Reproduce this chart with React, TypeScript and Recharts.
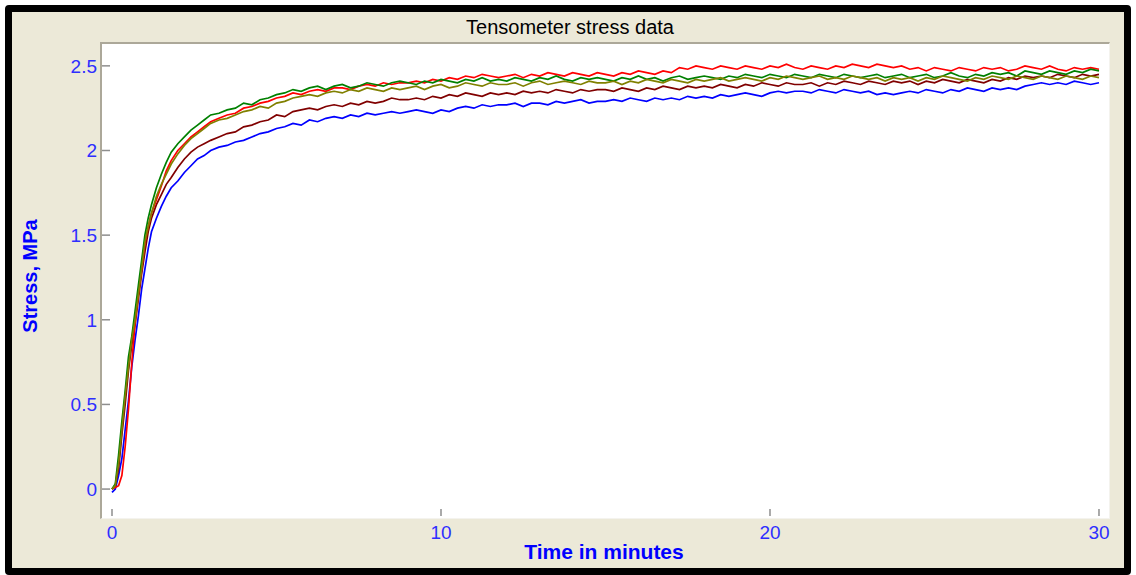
import { LineChart, Line, XAxis, YAxis } from "recharts";

// sampling times, minutes
const time = [
  0, 0.1, 0.2, 0.3, 0.4, 0.5, 0.6, 0.7, 0.8, 0.9, 1.0, 1.1, 1.2, 1.35, 1.5, 1.65, 1.8, 2.0, 2.2, 2.4, 2.6, 2.8,
  3, 3.25, 3.5, 3.75, 4, 4.25, 4.5, 4.75, 5, 5.25, 5.5, 5.75,
  6, 6.25, 6.5, 6.75, 7, 7.25, 7.5, 7.75, 8, 8.25, 8.5, 8.75,
  9, 9.25, 9.5, 9.75, 10, 10.25, 10.5, 10.75, 11, 11.25, 11.5, 11.75,
  12, 12.25, 12.5, 12.75, 13, 13.25, 13.5, 13.75, 14, 14.25, 14.5, 14.75,
  15, 15.25, 15.5, 15.75, 16, 16.25, 16.5, 16.75, 17, 17.25, 17.5, 17.75,
  18, 18.25, 18.5, 18.75, 19, 19.25, 19.5, 19.75, 20, 20.25, 20.5, 20.75,
  21, 21.25, 21.5, 21.75, 22, 22.25, 22.5, 22.75, 23, 23.25, 23.5, 23.75,
  24, 24.25, 24.5, 24.75, 25, 25.25, 25.5, 25.75, 26, 26.25, 26.5, 26.75,
  27, 27.25, 27.5, 27.75, 28, 28.25, 28.5, 28.75, 29, 29.25, 29.5, 29.75, 30,
];

// stress, MPa
const blue = [
  -0.02, 0.0, 0.08, 0.18, 0.35, 0.52, 0.72, 0.88, 1.02, 1.18, 1.3, 1.42, 1.52, 1.6, 1.67, 1.73, 1.78, 1.82, 1.87, 1.91, 1.95, 1.97,
  2.00, 2.02, 2.03, 2.05, 2.06, 2.08, 2.10, 2.11, 2.13, 2.14, 2.16, 2.15,
  2.18, 2.17, 2.19, 2.20, 2.19, 2.21, 2.20, 2.22, 2.21, 2.22, 2.23, 2.22,
  2.23, 2.24, 2.23, 2.22, 2.24, 2.23, 2.25, 2.26, 2.25, 2.27, 2.26, 2.27,
  2.27, 2.28, 2.26, 2.28, 2.28, 2.27, 2.29, 2.28, 2.29, 2.30, 2.28, 2.29,
  2.29, 2.30, 2.29, 2.31, 2.30, 2.29, 2.31, 2.30, 2.31, 2.30, 2.32, 2.31,
  2.32, 2.31, 2.33, 2.32, 2.33, 2.34, 2.33, 2.32, 2.34, 2.35, 2.34, 2.35,
  2.35, 2.34, 2.36, 2.35, 2.34, 2.36, 2.35, 2.34, 2.35, 2.33, 2.34, 2.33,
  2.34, 2.35, 2.34, 2.36, 2.35, 2.34, 2.36, 2.35, 2.37, 2.36, 2.35, 2.37,
  2.36, 2.37, 2.36, 2.38, 2.39, 2.40, 2.39, 2.40, 2.39, 2.41, 2.40, 2.39, 2.40,
];

const maroon = [
  0, 0.02, 0.12, 0.32, 0.5, 0.7, 0.85, 0.97, 1.12, 1.27, 1.4, 1.52, 1.6, 1.68, 1.74, 1.8, 1.84, 1.9, 1.95, 1.99, 2.02, 2.04,
  2.06, 2.08, 2.10, 2.11, 2.14, 2.15, 2.17, 2.18, 2.21, 2.20, 2.23, 2.24,
  2.25, 2.24, 2.26, 2.27, 2.26, 2.28, 2.27, 2.29, 2.28, 2.29, 2.31, 2.30,
  2.30, 2.31, 2.30, 2.32, 2.31, 2.33, 2.32, 2.34, 2.33, 2.32, 2.34, 2.33,
  2.34, 2.33, 2.35, 2.34, 2.35, 2.34, 2.36, 2.35, 2.34, 2.36, 2.35, 2.36,
  2.36, 2.35, 2.37, 2.36, 2.35, 2.37, 2.36, 2.38, 2.37, 2.36, 2.38, 2.37,
  2.38, 2.37, 2.39, 2.38, 2.37, 2.39, 2.38, 2.40, 2.39, 2.38, 2.40, 2.39,
  2.39, 2.40, 2.38, 2.40, 2.39, 2.41, 2.40, 2.39, 2.41, 2.40, 2.39, 2.41,
  2.40, 2.41, 2.39, 2.41, 2.40, 2.42, 2.41, 2.40, 2.42, 2.41, 2.40, 2.42,
  2.41, 2.43, 2.42, 2.44, 2.43, 2.44, 2.43, 2.45, 2.44, 2.43, 2.45, 2.44, 2.45,
];

const red = [
  0, 0.01, 0.02, 0.08, 0.25, 0.47, 0.74, 0.98, 1.15, 1.3, 1.45, 1.55, 1.63, 1.71, 1.79, 1.88, 1.94, 2.0, 2.04, 2.08, 2.11, 2.14,
  2.17, 2.19, 2.21, 2.22, 2.25, 2.26, 2.28, 2.29, 2.31, 2.32, 2.34, 2.33,
  2.35, 2.36, 2.35, 2.37, 2.37, 2.36, 2.38, 2.39, 2.38, 2.40, 2.39, 2.40,
  2.40, 2.41, 2.40, 2.42, 2.41, 2.43, 2.42, 2.44, 2.43, 2.45, 2.44, 2.43,
  2.44, 2.45, 2.43, 2.45, 2.44, 2.46, 2.45, 2.44, 2.46, 2.45, 2.44, 2.46,
  2.45, 2.44, 2.46, 2.45, 2.47, 2.46, 2.45, 2.47, 2.46, 2.49, 2.48, 2.50,
  2.49, 2.48, 2.50, 2.49, 2.48, 2.50, 2.49, 2.48, 2.50, 2.49, 2.51, 2.49,
  2.48, 2.50, 2.49, 2.48, 2.50, 2.49, 2.51, 2.50, 2.49, 2.51, 2.50, 2.49,
  2.50, 2.48, 2.49, 2.47, 2.49, 2.48, 2.47, 2.49, 2.48, 2.47, 2.49, 2.48,
  2.49, 2.47, 2.48, 2.50, 2.49, 2.48, 2.50, 2.48, 2.47, 2.49, 2.48, 2.49, 2.48,
];

const green = [
  0, 0.03, 0.2, 0.4, 0.58, 0.78, 0.9, 1.05, 1.2, 1.35, 1.5, 1.6, 1.68, 1.78, 1.86, 1.93, 1.99, 2.04, 2.08, 2.12, 2.15, 2.18,
  2.21, 2.22, 2.24, 2.25, 2.28, 2.27, 2.30, 2.31, 2.33, 2.34, 2.36, 2.35,
  2.37, 2.38, 2.36, 2.38, 2.39, 2.37, 2.38, 2.40, 2.39, 2.38, 2.40, 2.41,
  2.40, 2.39, 2.41, 2.40, 2.42, 2.41, 2.40, 2.42, 2.41, 2.43, 2.41, 2.42,
  2.41, 2.43, 2.42, 2.41, 2.43, 2.42, 2.44, 2.42, 2.41, 2.43, 2.42, 2.43,
  2.42, 2.41, 2.43, 2.42, 2.44, 2.42, 2.43, 2.41, 2.43, 2.44, 2.42, 2.43,
  2.44, 2.43, 2.42, 2.44, 2.43, 2.45, 2.44, 2.43, 2.45, 2.44, 2.43, 2.45,
  2.44, 2.43, 2.45, 2.44, 2.43, 2.45, 2.44, 2.43, 2.44, 2.45, 2.43, 2.44,
  2.45, 2.43, 2.44, 2.45, 2.43, 2.44, 2.46, 2.44, 2.43, 2.45, 2.44, 2.46,
  2.45, 2.46, 2.44, 2.47, 2.46, 2.45, 2.47, 2.46, 2.45, 2.47, 2.46, 2.48, 2.47,
];

const olive = [
  0, 0.02, 0.15, 0.35, 0.55, 0.72, 0.88, 1.0, 1.15, 1.3, 1.46, 1.55, 1.63, 1.73, 1.8, 1.86, 1.92, 1.98, 2.03, 2.07, 2.1, 2.13,
  2.16, 2.18, 2.19, 2.21, 2.23, 2.24, 2.26, 2.25, 2.28, 2.29, 2.31, 2.32,
  2.33, 2.32, 2.34, 2.35, 2.34, 2.36, 2.35, 2.37, 2.36, 2.35, 2.37, 2.36,
  2.37, 2.38, 2.36, 2.38, 2.39, 2.37, 2.38, 2.40, 2.39, 2.38, 2.40, 2.39,
  2.39, 2.40, 2.38, 2.40, 2.41, 2.39, 2.40, 2.41, 2.40, 2.39, 2.41, 2.40,
  2.40, 2.41, 2.39, 2.41, 2.40, 2.42, 2.41, 2.40, 2.42, 2.41, 2.40, 2.42,
  2.41, 2.42, 2.43, 2.41, 2.42, 2.43, 2.42, 2.41, 2.43, 2.42, 2.44, 2.43,
  2.42, 2.43, 2.44, 2.42, 2.43, 2.42, 2.44, 2.43, 2.42, 2.43, 2.41, 2.43,
  2.42, 2.43, 2.41, 2.43, 2.42, 2.44, 2.43, 2.42, 2.41, 2.43, 2.42, 2.44,
  2.43, 2.42, 2.44, 2.43, 2.42, 2.44, 2.43, 2.42, 2.44, 2.43, 2.42, 2.44, 2.43,
];

const xTicks = [0, 10, 20, 30];
const yTicks = [0, 0.5, 1, 1.5, 2, 2.5];

const data = time.map((t, i) => ({
  t,
  blue: blue[i],
  maroon: maroon[i],
  red: red[i],
  green: green[i],
  olive: olive[i],
}));

const tickFont = "'Liberation Sans', Arial, sans-serif";
const tickColor = "#2e2eff";

const YTick = ({ x, y, payload }: any) => (
  <g>
    <line x1={x + 5} x2={x + 13} y1={y} y2={y} stroke="#8e8e8e" strokeWidth={1.5} />
    <text x={x} y={y} dy="0.36em" textAnchor="end" fill={tickColor} fontSize={19} fontFamily={tickFont}>
      {payload.value}
    </text>
  </g>
);

const XTick = ({ x, y, payload }: any) => (
  <g>
    <line x1={x} x2={x} y1={y - 16} y2={y - 9} stroke="#8e8e8e" strokeWidth={1.5} />
    <text x={x} y={y} dy="0.72em" textAnchor="middle" fill={tickColor} fontSize={19} fontFamily={tickFont}>
      {payload.value}
    </text>
  </g>
);

export default function App() {
  return (
    <div style={{ position: "absolute", left: 0, top: 0, width: 1136, height: 575, background: "#fff" }}>
      <div
        style={{
          position: "absolute",
          left: 5,
          top: 5,
          width: 1126,
          height: 570,
          boxSizing: "border-box",
          border: "7px solid #000",
          borderRadius: 4,
          background: "#ECE9D8",
        }}
      />
      <div
        style={{
          position: "absolute",
          left: 100,
          top: 42,
          width: 1010,
          height: 477,
          boxSizing: "border-box",
          borderTop: "2px solid #ACA899",
          borderLeft: "2px solid #ACA899",
          borderRight: "1px solid #F4F3EE",
          borderBottom: "1px solid #F4F3EE",
          background: "#fff",
        }}
      />
      <div
        style={{
          position: "absolute",
          left: 0,
          top: 15,
          width: 1140,
          textAlign: "center",
          fontFamily: tickFont,
          fontSize: 20,
          lineHeight: "24px",
          color: "#000",
        }}
      >
        Tensometer stress data
      </div>
      <div
        style={{
          position: "absolute",
          left: 404,
          top: 540,
          width: 400,
          textAlign: "center",
          fontFamily: tickFont,
          fontWeight: "bold",
          fontSize: 21,
          lineHeight: "24px",
          color: "#0000ff",
        }}
      >
        Time in minutes
      </div>
      <div
        style={{
          position: "absolute",
          left: 30 - 100,
          top: 276 - 12,
          width: 200,
          textAlign: "center",
          fontFamily: tickFont,
          fontWeight: "bold",
          fontSize: 20,
          lineHeight: "24px",
          color: "#0000ff",
          transform: "rotate(-90deg)",
        }}
      >
        Stress, MPa
      </div>
      <div style={{ position: "absolute", left: 0, top: 0 }}>
        <LineChart width={1136} height={575} data={data} margin={{ top: 43, right: 28, left: 12, bottom: 28 }}>
          <XAxis
            dataKey="t"
            type="number"
            domain={[-0.304, 30.274]}
            ticks={xTicks}
            interval={0}
            height={30}
            axisLine={false}
            tickLine={false}
            tickSize={0}
            tickMargin={8}
            tick={<XTick />}
          />
          <YAxis
            type="number"
            domain={[-0.165, 2.635]}
            ticks={yTicks}
            interval={0}
            width={90}
            axisLine={false}
            tickLine={false}
            tickSize={0}
            tickMargin={5}
            tick={<YTick />}
          />
          <Line dataKey="blue" stroke="#0000ff" strokeWidth={1.7} dot={false} isAnimationActive={false} />
          <Line dataKey="maroon" stroke="#800000" strokeWidth={1.7} dot={false} isAnimationActive={false} />
          <Line dataKey="red" stroke="#ff0000" strokeWidth={1.7} dot={false} isAnimationActive={false} />
          <Line dataKey="green" stroke="#008000" strokeWidth={1.7} dot={false} isAnimationActive={false} />
          <Line dataKey="olive" stroke="#808000" strokeWidth={1.7} dot={false} isAnimationActive={false} />
        </LineChart>
      </div>
    </div>
  );
}
